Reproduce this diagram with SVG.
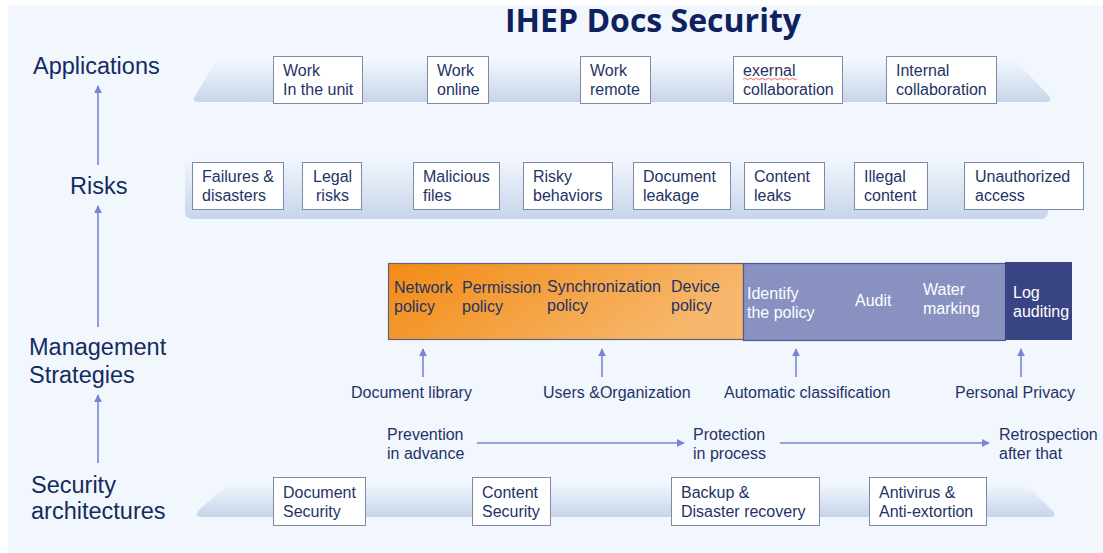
<svg xmlns="http://www.w3.org/2000/svg" width="1103" height="553" viewBox="0 0 1103 553">
<defs>
<linearGradient id="band" x1="0" y1="0" x2="0" y2="1">
<stop offset="0" stop-color="#f2f7fe"/>
<stop offset="1" stop-color="#c7d4e9"/>
</linearGradient>
<linearGradient id="orange" x1="0" y1="0" x2="1" y2="0.3">
<stop offset="0" stop-color="#f28b14"/>
<stop offset="1" stop-color="#f7b76c"/>
</linearGradient>
<marker id="ah" viewBox="0 0 10 10" refX="9" refY="5" markerWidth="5" markerHeight="5" orient="auto">
<path d="M0,0 L10,5 L0,10 Z" fill="#7a84d4"/>
</marker>
<style>
.lbl{font-family:"Liberation Sans",Arial,sans-serif;font-size:23.5px;fill:#142b5e}
.t{font-family:"Liberation Sans",Arial,sans-serif;font-size:16px;fill:#1f3366}
.w{font-family:"Liberation Sans",Arial,sans-serif;font-size:16px;fill:#ffffff}
.box{fill:#ffffff;stroke:#7f8aa8;stroke-width:1}
.ar{stroke:#7a84d4;stroke-width:1.6;fill:none;marker-end:url(#ah)}
</style>
</defs>
<rect x="0" y="0" width="1103" height="553" fill="#ffffff"/>
<rect x="8" y="5" width="1095" height="548" fill="#f2f7fe"/>
<text x="505" y="32" style="font-family:'Open Sans',sans-serif;font-weight:bold;font-size:32px;fill:#0e2260">IHEP Docs Security</text>

<g id="bands">
<path d="M217 60 L1015 60 L1049 96 Q1053 102 1045 102 L199 102 Q191 102 195 96 Z" fill="url(#band)"/>
<rect x="185" y="158" width="863" height="61" rx="7" fill="url(#band)"/>
<path d="M229 483 L1024 483 L1053 511 Q1057 517 1049 517 L202 517 Q194 517 198 511 Z" fill="url(#band)"/>
</g>

<g id="layer-labels">
<text class="lbl" x="33" y="74">Applications</text>
<text class="lbl" x="70" y="194">Risks</text>
<text class="lbl" x="29" y="355">Management</text>
<text class="lbl" x="29" y="383">Strategies</text>
<text class="lbl" x="31" y="493">Security</text>
<text class="lbl" x="31" y="519">architectures</text>
</g>

<g id="app-work-unit"><rect class="box" x="273.5" y="56.5" width="89" height="47"/><text class="t" x="283" y="76">Work</text><text class="t" x="283" y="95">In the unit</text></g>
<g id="app-work-online"><rect class="box" x="427.5" y="56.5" width="61" height="47"/><text class="t" x="437" y="76">Work</text><text class="t" x="437" y="95">online</text></g>
<g id="app-work-remote"><rect class="box" x="580.5" y="56.5" width="70" height="47"/><text class="t" x="590" y="76">Work</text><text class="t" x="590" y="95">remote</text></g>
<g id="app-external"><rect class="box" x="733.5" y="56.5" width="109" height="47"/><text class="t" x="743" y="76">exernal</text><path d="M743 79 q1.5 -1.5 3 0 t3 0 t3 0 t3 0 t3 0 t3 0 t3 0 t3 0 t3 0 t3 0 t3 0 t3 0 t3 0 t3 0 t3 0 t3 0 t3 0 t3 0" stroke="#e04040" stroke-width="0.8" fill="none"/><text class="t" x="743" y="95">collaboration</text></g>
<g id="app-internal"><rect class="box" x="886.5" y="56.5" width="110" height="47"/><text class="t" x="896" y="76">Internal</text><text class="t" x="896" y="95">collaboration</text></g>

<g id="risk-failures"><rect class="box" x="192.5" y="162.5" width="91" height="47"/><text class="t" x="202" y="182">Failures &amp;</text><text class="t" x="202" y="201">disasters</text></g>
<g id="risk-legal"><rect class="box" x="302.5" y="162.5" width="59" height="47"/><text class="t" x="313" y="182">Legal</text><text class="t" x="316" y="201">risks</text></g>
<g id="risk-malicious"><rect class="box" x="413.5" y="162.5" width="86" height="47"/><text class="t" x="423" y="182">Malicious</text><text class="t" x="423" y="201">files</text></g>
<g id="risk-risky"><rect class="box" x="523.5" y="162.5" width="89" height="47"/><text class="t" x="533" y="182">Risky</text><text class="t" x="533" y="201">behaviors</text></g>
<g id="risk-leakage"><rect class="box" x="633.5" y="162.5" width="97" height="47"/><text class="t" x="643" y="182">Document</text><text class="t" x="643" y="201">leakage</text></g>
<g id="risk-content"><rect class="box" x="744.5" y="162.5" width="80" height="47"/><text class="t" x="754" y="182">Content</text><text class="t" x="754" y="201">leaks</text></g>
<g id="risk-illegal"><rect class="box" x="854.5" y="162.5" width="73" height="47"/><text class="t" x="864" y="182">Illegal</text><text class="t" x="864" y="201">content</text></g>
<g id="risk-unauth"><rect class="box" x="964.5" y="162.5" width="119" height="47"/><text class="t" x="975" y="182">Unauthorized</text><text class="t" x="975" y="201">access</text></g>

<g id="strategy-orange"><rect x="388.5" y="263.5" width="355" height="76" fill="url(#orange)" stroke="#5a6480" stroke-width="1.2"/>
<text class="t" x="394" y="293">Network</text><text class="t" x="394" y="312">policy</text>
<text class="t" x="462" y="293">Permission</text><text class="t" x="462" y="312">policy</text>
<text class="t" x="547" y="292">Synchronization</text><text class="t" x="547" y="311">policy</text>
<text class="t" x="671" y="292">Device</text><text class="t" x="671" y="311">policy</text></g>
<g id="strategy-purple"><rect x="743.5" y="263.5" width="262" height="77" fill="#8891c0" stroke="#4e5a8c" stroke-width="1.2"/>
<text class="w" x="747" y="299">Identify</text><text class="w" x="747" y="318">the policy</text>
<text class="w" x="855" y="306">Audit</text>
<text class="w" x="923" y="295">Water</text><text class="w" x="923" y="314">marking</text></g>
<g id="strategy-log"><rect x="1005" y="262" width="67" height="78" fill="#394485"/>
<text class="w" x="1013" y="298">Log</text><text class="w" x="1013" y="317">auditing</text></g>

<g id="sources">
<text class="t" x="351" y="398">Document library</text>
<text class="t" x="543" y="398">Users &amp;Organization</text>
<text class="t" x="724" y="398">Automatic classification</text>
<text class="t" x="955" y="398">Personal Privacy</text>
</g>

<g id="phases">
<text class="t" x="387" y="440">Prevention</text><text class="t" x="387" y="459">in advance</text>
<text class="t" x="693" y="440">Protection</text><text class="t" x="693" y="459">in process</text>
<text class="t" x="999" y="440">Retrospection</text><text class="t" x="999" y="459">after that</text>
</g>

<g id="sec-document"><rect class="box" x="273.5" y="477.5" width="92" height="48"/><text class="t" x="283" y="498">Document</text><text class="t" x="283" y="517">Security</text></g>
<g id="sec-content"><rect class="box" x="472.5" y="477.5" width="78" height="48"/><text class="t" x="482" y="498">Content</text><text class="t" x="482" y="517">Security</text></g>
<g id="sec-backup"><rect class="box" x="671.5" y="477.5" width="148" height="48"/><text class="t" x="681" y="498">Backup &amp;</text><text class="t" x="681" y="517">Disaster recovery</text></g>
<g id="sec-antivirus"><rect class="box" x="869.5" y="477.5" width="117" height="48"/><text class="t" x="879" y="498">Antivirus &amp;</text><text class="t" x="879" y="517">Anti-extortion</text></g>

<g id="connectors">
<line class="ar" x1="98" y1="165" x2="98" y2="86"/>
<line class="ar" x1="98" y1="327" x2="98" y2="206"/>
<line class="ar" x1="98" y1="463" x2="98" y2="395"/>
<line class="ar" x1="423" y1="377" x2="423" y2="349"/>
<line class="ar" x1="602" y1="377" x2="602" y2="349"/>
<line class="ar" x1="796" y1="377" x2="796" y2="349"/>
<line class="ar" x1="1021" y1="377" x2="1021" y2="349"/>
<line class="ar" x1="477" y1="443" x2="684" y2="443"/>
<line class="ar" x1="780" y1="443" x2="989" y2="443"/>
</g>
</svg>
